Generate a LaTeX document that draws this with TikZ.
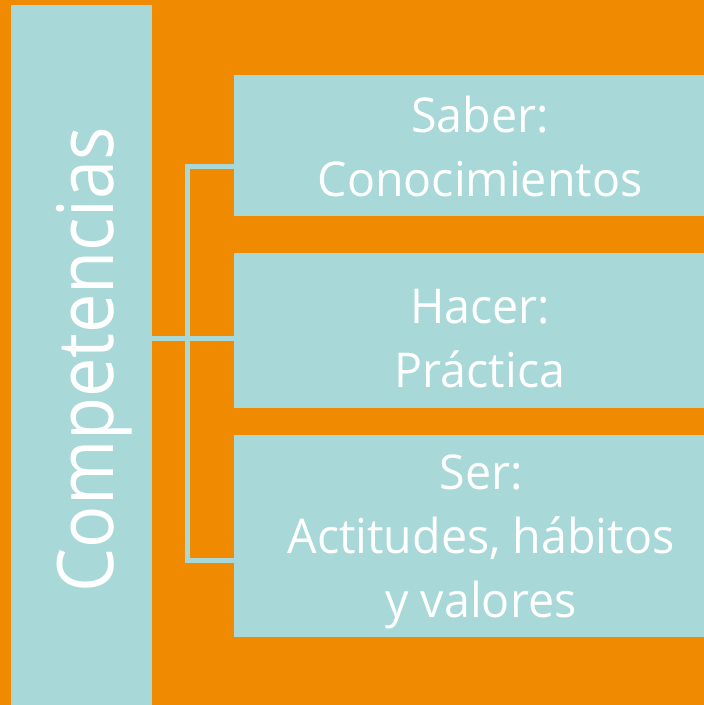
\documentclass[tikz,border=0pt]{standalone}
\usepackage{fontspec}
\setmainfont[FakeStretch=0.97]{Open Sans}
\newfontfamily\fuentecol[FakeStretch=0.9]{Open Sans}
\definecolor{naranja}{HTML}{F08A00}
\definecolor{celeste}{HTML}{A8D8D8}
\tikzset{
  caja/.style={fill=celeste, inner sep=0pt},
  texto/.style={text=white, align=center, inner sep=0pt, font=\fontsize{48}{64}\selectfont},
  linea/.style={draw=celeste, line width=5pt, line cap=rect}
}

\begin{document}
\begin{tikzpicture}[x=1pt,y=-1pt]
\fill[naranja] (0,0) rectangle (704,705);
\useasboundingbox (0,0) rectangle (704,705);

% left column
\node[caja, minimum width=141pt, minimum height=700pt] (comp) at (81.5,355) {};
\node[text=white, rotate=90, anchor=base, inner sep=0pt, font=\fuentecol\fontsize{78}{80}\selectfont] (comptxt) at (113,360) {Competencias};

% boxes on the right
\node[caja, minimum width=470pt, minimum height=141pt] (saber) at (469,145.5) {};
\node[caja, minimum width=470pt, minimum height=155pt] (hacer) at (469,330.5) {};
\node[caja, minimum width=470pt, minimum height=202pt] (ser) at (469,536) {};

\node[texto] (sabertxt) at (480,146.5) {Saber:\\Conocimientos};
\node[texto] (hacertxt) at (480,338.5) {Hacer:\\Práctica};
\node[texto] (sertxt) at (481,542) {Ser:\\Actitudes, hábitos\\y valores};

% connectors
\coordinate (j1) at (187.5,166);
\coordinate (j2) at (187.5,338);
\coordinate (j3) at (187.5,560);
\draw[linea] (j1) -- (j3);
\draw[linea] (comp.east |- j2) -- (j2);
\foreach \j/\b in {j1/saber,j2/hacer,j3/ser} \draw[linea] (\j) -- (\b.west |- \j);

\end{tikzpicture}
\end{document}
